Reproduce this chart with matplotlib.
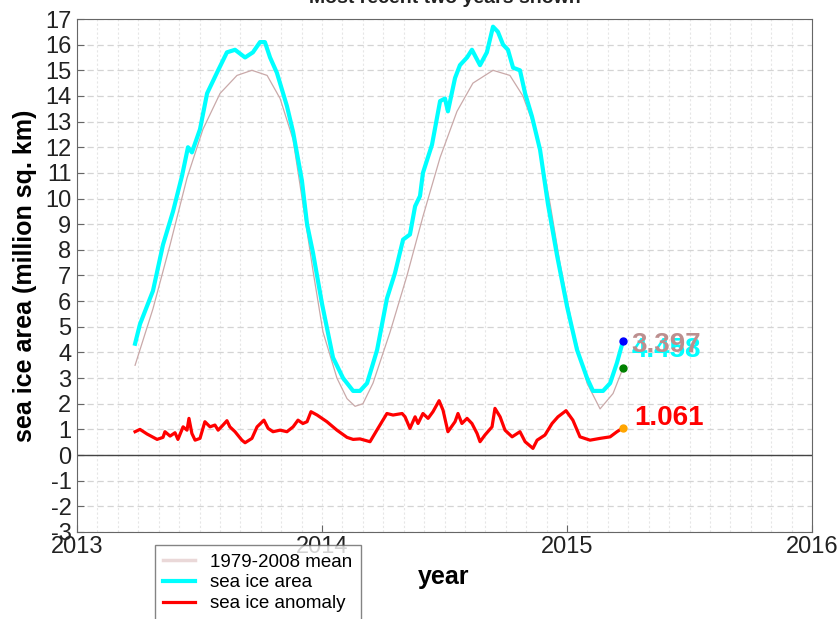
import matplotlib
matplotlib.use('Agg')
import matplotlib.pyplot as plt
from matplotlib.ticker import MultipleLocator

plt.rcParams['font.family'] = ['Liberation Sans', 'DejaVu Sans']
plt.rcParams['axes.unicode_minus'] = False

# sea ice area (million sq. km)
area_year = [2013.237, 2013.257, 2013.310, 2013.351, 2013.392, 2013.429, 2013.453, 2013.469,
             2013.502, 2013.531, 2013.576, 2013.612, 2013.645, 2013.686, 2013.718, 2013.747,
             2013.767, 2013.788, 2013.816, 2013.857, 2013.882, 2013.918, 2013.939, 2013.963,
             2014.000, 2014.045, 2014.086, 2014.127, 2014.155, 2014.184, 2014.225, 2014.265,
             2014.298, 2014.331, 2014.359, 2014.380, 2014.400, 2014.412, 2014.449, 2014.482,
             2014.502, 2014.514, 2014.543, 2014.563, 2014.592, 2014.612, 2014.645, 2014.673,
             2014.698, 2014.718, 2014.739, 2014.759, 2014.780, 2014.808, 2014.829, 2014.857,
             2014.890, 2014.922, 2014.959, 2015.000, 2015.041, 2015.082, 2015.106, 2015.147,
             2015.176, 2015.204, 2015.229]
area = [4.34, 5.1, 6.4, 8.2, 9.5, 10.9, 12.0, 11.8,
        12.7, 14.1, 15.0, 15.7, 15.8, 15.5, 15.7, 16.1,
        16.1, 15.5, 14.9, 13.6, 12.6, 10.7, 9.0, 7.9,
        5.9, 3.8, 3.0, 2.5, 2.5, 2.8, 4.1, 6.1,
        7.1, 8.4, 8.6, 9.7, 10.1, 11.0, 12.1, 13.8,
        13.9, 13.4, 14.7, 15.2, 15.5, 15.8, 15.2, 15.7,
        16.7, 16.5, 16.0, 15.8, 15.1, 15.0, 14.1, 13.2,
        11.9, 9.8, 7.8, 5.8, 4.1, 3.0, 2.5, 2.5,
        2.8, 3.6, 4.458]

# 1979-2008 mean
mean_year = [2013.237, 2013.310, 2013.380, 2013.449, 2013.514, 2013.584, 2013.653, 2013.714,
             2013.776, 2013.829, 2013.882, 2013.922, 2013.963, 2014.004, 2014.061, 2014.102,
             2014.135, 2014.167, 2014.208, 2014.278, 2014.347, 2014.412, 2014.482, 2014.551,
             2014.616, 2014.698, 2014.767, 2014.820, 2014.878, 2014.931, 2014.971, 2015.024,
             2015.082, 2015.135, 2015.188, 2015.229]
mean = [3.5, 5.7, 8.2, 10.8, 12.7, 14.1, 14.8, 15.0,
        14.8, 13.9, 12.3, 9.8, 7.2, 4.8, 3.0, 2.2,
        1.9, 2.0, 2.8, 4.8, 7.0, 9.3, 11.6, 13.4,
        14.5, 15.0, 14.8, 14.0, 12.5, 9.8, 7.5, 4.9,
        2.8, 1.8, 2.4, 3.397]

# anomaly
anom_year = [2013.237, 2013.257, 2013.286, 2013.327, 2013.351, 2013.359, 2013.380, 2013.400,
             2013.412, 2013.433, 2013.449, 2013.457, 2013.469, 2013.482, 2013.502, 2013.522,
             2013.543, 2013.563, 2013.576, 2013.596, 2013.612, 2013.624, 2013.645, 2013.673,
             2013.686, 2013.714, 2013.735, 2013.763, 2013.780, 2013.800, 2013.829, 2013.857,
             2013.882, 2013.902, 2013.922, 2013.939, 2013.955, 2013.980, 2014.020, 2014.061,
             2014.102, 2014.127, 2014.155, 2014.196, 2014.224, 2014.265, 2014.290, 2014.327,
             2014.339, 2014.359, 2014.380, 2014.392, 2014.412, 2014.433, 2014.453, 2014.478,
             2014.494, 2014.514, 2014.543, 2014.555, 2014.571, 2014.592, 2014.612, 2014.633,
             2014.645, 2014.665, 2014.694, 2014.706, 2014.727, 2014.747, 2014.776, 2014.808,
             2014.829, 2014.861, 2014.878, 2014.910, 2014.939, 2014.963, 2014.996, 2015.024,
             2015.053, 2015.094, 2015.135, 2015.176, 2015.204, 2015.229]
anom = [0.91, 1.0, 0.82, 0.61, 0.69, 0.91, 0.74, 0.87,
        0.61, 1.1, 0.97, 1.43, 0.84, 0.58, 0.65, 1.3,
        1.1, 1.17, 0.97, 1.17, 1.34, 1.1, 0.91, 0.58,
        0.48, 0.65, 1.1, 1.36, 1.04, 0.91, 0.97, 0.91,
        1.1, 1.36, 1.23, 1.3, 1.69, 1.56, 1.3, 0.97,
        0.69, 0.61, 0.63, 0.52, 0.97, 1.62, 1.56, 1.62,
        1.49, 1.04, 1.49, 1.23, 1.62, 1.43, 1.69, 2.12,
        1.75, 0.91, 1.3, 1.62, 1.23, 1.43, 1.23, 0.84,
        0.52, 0.78, 1.1, 1.82, 1.49, 0.97, 0.71, 0.91,
        0.52, 0.26, 0.58, 0.78, 1.23, 1.49, 1.73, 1.36,
        0.71, 0.58, 0.65, 0.71, 0.91, 1.061]

year_ticks = [2013, 2014, 2015, 2016]

fig = plt.figure(figsize=(8.4, 6.19), dpi=100)
ax = fig.add_axes([77 / 840, 1 - 532 / 619, 735 / 840, 513 / 619])

ax.set_xlim(2013, 2016)
ax.set_ylim(-3, 17)
ax.set_xticks(year_ticks)
ax.set_xticklabels([str(y) for y in year_ticks])
ax.set_yticks(range(-3, 18))
ax.xaxis.set_minor_locator(MultipleLocator(1 / 12))
ax.grid(axis='y', which='major', color='#d4d4d4', lw=0.9, ls=(0, (5, 3)))
ax.grid(axis='x', which='both', color='#e6e6e6', lw=0.8, ls=(0, (2, 2)))
ax.set_axisbelow(True)
ax.axhline(0, color='#444444', lw=1)

ax.plot(mean_year, mean, color='#c9a9a9', lw=0.9, label='1979-2008 mean')
ax.plot(area_year, area, color='#00ffff', lw=3, label='sea ice area')
ax.plot(anom_year, anom, color='#ff0000', lw=2.3, label='sea ice anomaly')

ax.plot(area_year[-1], area[-1], 'o', color='#0000ff', ms=5, zorder=5)
ax.plot(mean_year[-1], mean[-1], 'o', color='#008000', ms=5, zorder=5)
ax.plot(anom_year[-1], anom[-1], 'o', color='#ffa500', ms=5, zorder=5)

ax.text(2015.265, 4.09, '%.3f' % area[-1], color='#00ffff', fontsize=20,
        fontweight='bold', va='center', ha='left')
ax.text(2015.262, 4.29, '%.3f' % mean[-1], color='#bc8f8f', fontsize=20,
        fontweight='bold', va='center', ha='left')
ax.text(2015.275, 1.44, '%.3f' % anom[-1], color='#ff0000', fontsize=20,
        fontweight='bold', va='center', ha='left')

for s in ax.spines.values():
    s.set_color('#666666')
ax.tick_params(axis='y', direction='in', length=5, labelsize=17, pad=4,
               color='#666666', labelcolor='#222222')
ax.tick_params(axis='x', which='major', direction='in', length=5, labelsize=17, pad=3,
               color='#666666', labelcolor='#222222')
ax.tick_params(axis='x', which='minor', length=0)

ax.set_ylabel('sea ice area (million sq. km)', fontsize=18, fontweight='bold')
ax.yaxis.set_label_coords(-0.054, 0.5)
fig.text(444 / 840, 1 - 577 / 619, 'year', fontsize=18, fontweight='bold',
         ha='center', va='center')
fig.text(445 / 840, 1 - 3 / 619, 'Most recent two years shown', fontsize=14,
         fontweight='bold', ha='center', va='baseline', color='#222222')

leg = fig.legend(loc='upper left', bbox_to_anchor=(155 / 840, 1 - 545 / 619),
                 fontsize=13.5, frameon=True, fancybox=False, edgecolor='#666666',
                 handlelength=1.7, handletextpad=0.8, labelspacing=0.2,
                 borderpad=0.45, borderaxespad=0)
leg.get_frame().set_linewidth(1)
leg.get_lines()[0].set_linewidth(2.5)
leg.get_lines()[0].set_color('#ead8d8')

fig.savefig('out.png', dpi=100)
